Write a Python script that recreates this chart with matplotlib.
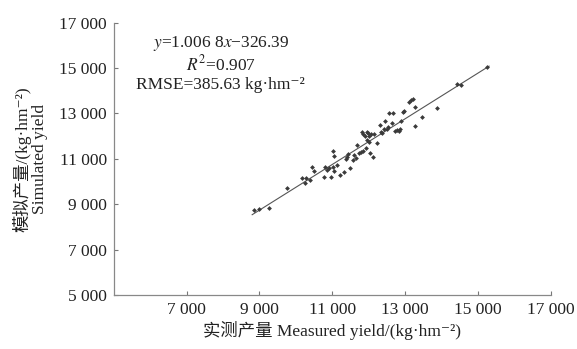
import matplotlib
matplotlib.use("Agg")
import matplotlib.pyplot as plt
import numpy as np

plt.rcParams['font.family'] = ['Liberation Serif', 'DejaVu Serif', 'Noto Sans CJK SC']
plt.rcParams['mathtext.fontset'] = 'stix'

# measured / simulated yield, kg/hm2
measured = [8855, 9000, 9274, 9768, 10163, 10281, 10254, 10391, 10438, 10501,
            10775, 10803, 10857, 10912, 10959, 11014, 11030, 11041, 11050, 11140,
            11214, 11332, 11379, 11442, 11488, 11414, 11579, 11653, 11606, 11672,
            11727, 11782, 11837, 11810, 11853, 11900, 11946, 11991, 12018, 12056,
            11963, 12001, 11927, 12037, 12111, 12147, 12221, 12312, 12331, 12366,
            12421, 12495, 12539, 12449, 12550, 12660, 12632, 12731, 12786, 12824,
            12860, 12879, 12934, 12970, 13099, 13170, 13225, 13263, 13263, 13464,
            13883, 14432, 14525, 15255]
simulated = [8727, 8784, 8815, 9721, 10161, 10161, 9928, 10073, 10619, 10469,
             10205, 10645, 10500, 10588, 10179, 10645, 11349, 11116, 10443, 10733,
             10293, 10412, 10984, 11191, 10575, 11059, 10940, 11015, 11147, 11600,
             11261, 11305, 11349, 12185, 12084, 11996, 12159, 12115, 12009, 12071,
             11820, 11745, 11455, 11235, 11059, 12084, 11701, 12480, 12185, 12141,
             12291, 12317, 12379, 12643, 13021, 13021, 12555, 12203, 12260, 12203,
             12291, 12669, 13065, 13109, 13505, 13580, 13624, 13259, 12449, 12819,
             13215, 14297, 14253, 15032]

slope = 1.0068
intercept = -326.39

ticks = [5000, 7000, 9000, 11000, 13000, 15000, 17000]
tick_labels = ["5 000", "7 000", "9 000", "11 000", "13 000", "15 000", "17 000"]

fig = plt.figure(figsize=(5.77, 3.49), dpi=100)
ax = fig.add_axes([0.197, 0.155, 0.758, 0.7805])

ax.scatter(measured, simulated, marker='D', s=6, color='#3a3a3a', zorder=3, linewidths=0)
xl = np.array([8800, 15300])
ax.plot(xl, slope * xl + intercept, color='#555555', lw=0.8)

ax.set_xlim(5000, 17000)
ax.set_ylim(5000, 17000)
ax.set_xticks(ticks[1:])
ax.set_xticklabels(tick_labels[1:])
ax.set_yticks(ticks)
ax.set_yticklabels(tick_labels)
ax.tick_params(direction='in', length=3, width=0.8, color='#777777', labelsize=12.5, labelcolor='#222222', pad=5)

for s in ['top', 'right']:
    ax.spines[s].set_visible(False)
for s in ['left', 'bottom']:
    ax.spines[s].set_color('#888888')
    ax.spines[s].set_linewidth(0.9)

ax.text(0.245, 0.922, r"$y$=1.006 8$x$−326.39", transform=ax.transAxes,
        ha='center', va='center', fontsize=12.5, color='#222222')
ax.text(0.245, 0.845, r"$R^2$=0.907", transform=ax.transAxes,
        ha='center', va='center', fontsize=12.5, color='#222222')
ax.text(0.245, 0.77, "RMSE=385.63 kg·hm⁻²", transform=ax.transAxes,
        ha='center', va='center', fontsize=12.5, color='#222222')

ax.set_xlabel("实测产量 Measured yield/(kg·hm⁻²)", fontsize=12.5, color='#222222', labelpad=2)
ax.set_ylabel("模拟产量/(kg·hm⁻²)\nSimulated yield", fontsize=12.5, color='#222222', labelpad=8, linespacing=1.05)

fig.savefig("out.png", dpi=100)
